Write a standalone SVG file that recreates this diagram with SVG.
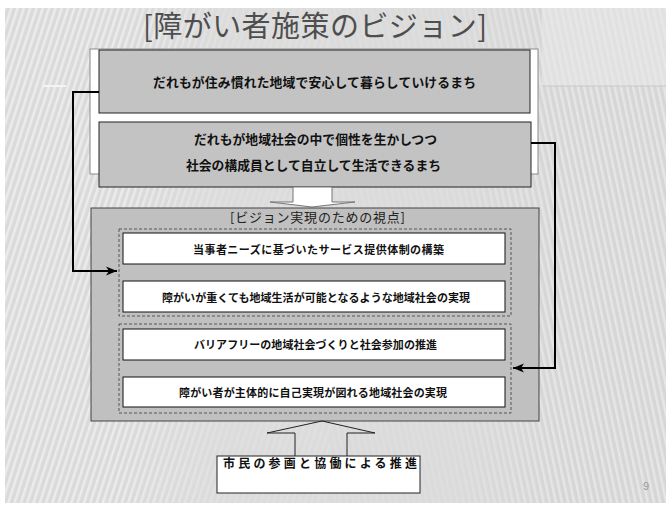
<svg xmlns="http://www.w3.org/2000/svg" width="668" height="512" viewBox="0 0 668 512">
<defs>
<style>
.jp{font-family:"Noto Sans CJK JP","Noto Sans CJK SC",sans-serif;}
.b{font-weight:bold;fill:#111;}
.gbox{fill:#c3c3c3;stroke:#222;stroke-width:1;}
.wbox{fill:#fff;stroke:#111;stroke-width:1;}
.dash{fill:none;stroke:#555;stroke-width:1;stroke-dasharray:3,2;}
.conn{fill:none;stroke:#000;stroke-width:2;}
</style>
<pattern id="stripesL" width="6" height="6" patternUnits="userSpaceOnUse" patternTransform="rotate(18)">
<rect width="6" height="6" fill="#dadada"/>
<rect width="2.5" height="6" fill="#ececec"/>
</pattern>
<pattern id="stripesR" width="6" height="6" patternUnits="userSpaceOnUse" patternTransform="rotate(-12)">
<rect width="6" height="6" fill="#d6d6d6"/>
<rect width="2.5" height="6" fill="#e6e6e6"/>
</pattern>
<linearGradient id="fadeMid" x1="0" y1="0" x2="1" y2="0">
<stop offset="0" stop-color="#dcdcdc" stop-opacity="0"/>
<stop offset="0.25" stop-color="#dcdcdc" stop-opacity="0.8"/>
<stop offset="0.75" stop-color="#dcdcdc" stop-opacity="0.8"/>
<stop offset="1" stop-color="#dcdcdc" stop-opacity="0"/>
</linearGradient>
<marker id="arr" markerWidth="12" markerHeight="10" refX="11" refY="5" orient="auto" markerUnits="userSpaceOnUse">
<path d="M0,0.5 L11,5 L0,9.5 L3,5 z" fill="#000"/>
</marker>
</defs>

<rect x="0" y="0" width="668" height="512" fill="#ffffff"/>
<g id="background">
<rect x="5" y="8" width="661" height="495" fill="url(#stripesL)"/>
<rect x="330" y="8" width="336" height="495" fill="url(#stripesR)"/>
<rect x="120" y="8" width="440" height="495" fill="url(#fadeMid)"/>
<rect x="542" y="8" width="124" height="78" fill="#e8e8e8" opacity="0.6"/>
<line x1="542" y1="86" x2="666" y2="86" stroke="#c8c8c8" stroke-width="1"/>
<line x1="43" y1="86" x2="66" y2="86" stroke="#f4f4f4" stroke-width="2"/>
</g>

<g id="title">
<text class="jp" x="315" y="37" font-size="29" fill="#4e4e4e" text-anchor="middle" textLength="344" lengthAdjust="spacing">[障がい者施策のビジョン]</text>
</g>

<g id="vision-frame">
<rect x="90" y="49" width="448" height="125" fill="#fff" stroke="#8a8a8a" stroke-width="1"/>
</g>

<g id="vision1">
<rect class="gbox" x="99" y="50" width="431" height="63"/>
<text class="jp b" x="314.5" y="87" font-size="12.8" text-anchor="middle" textLength="323" lengthAdjust="spacing">だれもが住み慣れた地域で安心して暮らしていけるまち</text>
</g>

<g id="vision2">
<rect class="gbox" x="99" y="122" width="432" height="65"/>
<text class="jp b" x="315.5" y="144" font-size="12.8" text-anchor="middle" textLength="243" lengthAdjust="spacing">だれもが地域社会の中で個性を生かしつつ</text>
<text class="jp b" x="313.5" y="170" font-size="12.8" text-anchor="middle" textLength="255" lengthAdjust="spacing">社会の構成員として自立して生活できるまち</text>
</g>

<g id="down-arrow">
<path d="M293,187 L293,202 L270,202 L312,207 L355,202 L332,202 L332,187 Z" fill="#fff" stroke="#777" stroke-width="1"/>
</g>

<g id="viewpoints">
<rect x="91" y="208" width="448" height="213" fill="#c0c0c0" stroke="#444" stroke-width="1"/>
<text class="jp" x="317.5" y="221.5" font-size="13" fill="#222" text-anchor="middle" textLength="175" lengthAdjust="spacing">[ビジョン実現のための視点]</text>
<rect class="dash" x="119" y="229" width="392" height="87"/>
<rect class="dash" x="119" y="324" width="392" height="89"/>
</g>

<g id="vp1">
<rect class="wbox" x="123" y="233" width="382" height="31"/>
<text class="jp b" x="318.5" y="254" font-size="11" text-anchor="middle" textLength="251" lengthAdjust="spacing">当事者ニーズに基づいたサービス提供体制の構築</text>
</g>
<g id="vp2">
<rect class="wbox" x="123" y="281" width="382" height="31"/>
<text class="jp b" x="316" y="302" font-size="11" text-anchor="middle" textLength="308" lengthAdjust="spacing">障がいが重くても地域生活が可能となるような地域社会の実現</text>
</g>
<g id="vp3">
<rect class="wbox" x="123" y="329" width="382" height="31"/>
<text class="jp b" x="315.5" y="349" font-size="11" text-anchor="middle" textLength="243" lengthAdjust="spacing">バリアフリーの地域社会づくりと社会参加の推進</text>
</g>
<g id="vp4">
<rect class="wbox" x="123" y="377" width="382" height="30"/>
<text class="jp b" x="313" y="397" font-size="11" text-anchor="middle" textLength="268" lengthAdjust="spacing">障がい者が主体的に自己実現が図れる地域社会の実現</text>
</g>

<g id="up-arrow">
<path d="M295,456 L295,433 L267,433 L322,421 L375,433 L347,433 L347,456" fill="none" stroke="#222" stroke-width="1"/>
</g>

<g id="citizen">
<rect x="217" y="456" width="203" height="37" fill="#fff" stroke="#222" stroke-width="1"/>
<text class="jp b" x="223" y="467.5" font-size="12" textLength="194" lengthAdjust="spacing">市民の参画と協働による推進</text>
</g>

<g id="connectors">
<path class="conn" d="M99,92 L73,92 L73,271 L117,271" marker-end="url(#arr)"/>
<path class="conn" d="M531,143 L555,143 L555,368 L513,368" marker-end="url(#arr)"/>
</g>

<g id="page-number">
<text x="643" y="490" font-family="Liberation Sans, sans-serif" font-size="11" fill="#999">9</text>
</g>
</svg>
